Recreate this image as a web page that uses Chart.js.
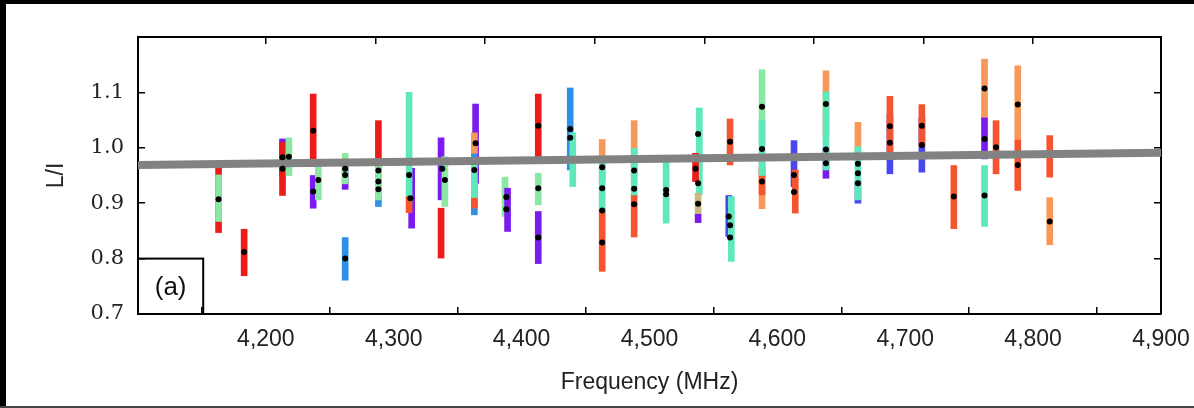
<!DOCTYPE html>
<html>
<head>
<meta charset="utf-8">
<script src="https://cdn.jsdelivr.net/npm/chart.js@4.4.1/dist/chart.umd.min.js"></script>
<style>
  html, body { margin: 0; padding: 0; background: #fff; }
  canvas { display: block; }
</style>
</head>
<body>
<canvas id="myChart" width="1194" height="408"></canvas>
<script>
// error bars, one entry per bar, drawn in this order
const barFreq = [4163, 4163, 4183, 4213, 4213, 4218, 4237, 4237, 4241, 4262, 4262, 4262,
  4288, 4288, 4288, 4314, 4312, 4312, 4337, 4337, 4340, 4364, 4363, 4363, 4363, 4363,
  4387, 4389, 4413, 4413, 4413, 4438, 4440, 4463, 4463, 4463, 4488, 4488, 4488, 4513,
  4539, 4536, 4538, 4538, 4563, 4562, 4564, 4588, 4588, 4588, 4588, 4613, 4614,
  4638, 4638, 4638, 4663, 4663, 4663, 4688, 4688, 4713, 4713, 4738, 4762, 4762, 4762,
  4771, 4788, 4788, 4813, 4813];
const barLow = [0.847, 0.867, 0.769, 0.948, 0.914, 0.950, 0.966, 0.891, 0.906, 0.925, 0.935, 0.761,
  0.960, 0.894, 0.906, 0.855, 0.900, 0.883, 0.801, 0.906, 0.894, 0.936, 0.879, 0.990, 0.909, 0.891,
  0.876, 0.849, 0.984, 0.897, 0.791, 0.960, 0.930, 0.940, 0.888, 0.777, 0.950, 0.839, 0.915, 0.864,
  0.915, 0.939, 0.879, 0.865, 0.969, 0.840, 0.795, 1.005, 0.890, 0.915, 0.950, 0.930, 0.882,
  1.020, 0.945, 0.960, 0.900, 0.990, 0.906, 0.953, 0.985, 0.956, 1.002, 0.854, 1.050, 0.980, 0.858,
  0.953, 1.014, 0.923, 0.947, 0.825];
const barHigh = [0.966, 0.951, 0.853, 1.016, 1.010, 1.018, 1.097, 0.950, 0.970, 0.975, 0.990, 0.838,
  1.049, 0.956, 0.970, 0.963, 1.100, 0.912, 0.891, 1.018, 0.984, 1.079, 1.012, 1.027, 0.975, 0.909,
  0.947, 0.927, 1.097, 0.954, 0.885, 1.108, 1.027, 1.015, 0.985, 0.888, 1.049, 0.915, 0.999, 0.975,
  1.072, 0.990, 0.918, 0.880, 1.052, 0.914, 0.912, 1.141, 0.990, 0.965, 1.050, 1.013, 0.960,
  1.139, 1.000, 1.101, 0.940, 1.046, 1.002, 1.060, 1.093, 1.054, 1.078, 0.968, 1.160, 1.054, 0.968,
  1.049, 1.148, 1.014, 1.022, 0.910];
// observing epoch of each bar (picks its colour)
const barEpoch = [0, 4, 0, 6, 0, 4, 0, 6, 4, 6, 4, 5,
  0, 5, 4, 6, 3, 1, 0, 6, 4, 6, 5, 2, 3, 1,
  4, 6, 0, 4, 6, 5, 3, 2, 3, 1, 2, 1, 3, 3,
  3, 0, 8, 6, 1, 7, 3, 4, 2, 1, 3, 7, 1,
  2, 6, 3, 7, 2, 3, 7, 1, 7, 1, 1, 2, 6, 3,
  1, 2, 1, 1, 2];

// measured L/I values (black dots)
const dotFreq = [4163, 4183, 4213, 4213, 4218, 4237, 4237, 4241, 4262, 4262, 4262,
  4288, 4288, 4288, 4312, 4313, 4338, 4340, 4364, 4363, 4388, 4388, 4413, 4413, 4413,
  4438, 4438, 4463, 4463, 4463, 4463, 4488, 4488, 4488, 4513, 4513, 4538, 4536, 4538, 4538,
  4563, 4562, 4563, 4563, 4588, 4588, 4588, 4613, 4613, 4638, 4638, 4638, 4663, 4663, 4663,
  4688, 4688, 4713, 4713, 4738, 4762, 4762, 4762, 4771, 4788, 4788, 4813];
const dotRatio = [0.907, 0.812, 0.983, 0.962, 0.984, 1.031, 0.921, 0.942, 0.962, 0.951, 0.800,
  0.959, 0.939, 0.925, 0.951, 0.909, 0.962, 0.942, 1.008, 0.960, 0.911, 0.889, 1.040, 0.927, 0.838,
  1.034, 1.018, 0.965, 0.927, 0.887, 0.829, 0.959, 0.926, 0.898, 0.924, 0.916, 1.025, 0.962, 0.936, 0.899,
  1.011, 0.876, 0.860, 0.838, 1.074, 0.998, 0.939, 0.951, 0.920, 1.079, 0.997, 0.972, 0.971, 0.954, 0.936,
  1.039, 1.009, 1.040, 1.005, 0.912, 1.107, 1.016, 0.914, 1.001, 1.078, 0.969, 0.867];

// fitted trend
const fitFreq = [4100, 4900];
const fitRatio = [0.969, 0.991];

const xTickValues = [4200, 4300, 4400, 4500, 4600, 4700, 4800, 4900];
const xTickLabels = ['4,200', '4,300', '4,400', '4,500', '4,600', '4,700', '4,800', '4,900'];
const yTickValues = [0.7, 0.8, 0.9, 1.0, 1.1];
const yTickLabels = ['0.7', '0.8', '0.9', '1.0', '1.1'];

const epochColors = ['#ee1b1b', '#f4552f', '#f89858', '#5ee8bb', '#8be8a2',
  '#2e90e6', '#7a1bf0', '#4848ee', '#c9b97a'];

const sans = "'Liberation Sans', Arial, sans-serif";

// black frame around the picture
const framePlugin = {
  id: 'frame',
  beforeDraw(chart) {
    const c = chart.ctx, w = chart.width, h = chart.height;
    c.save();
    c.fillStyle = '#fff';
    c.fillRect(0, 0, w, h);
    c.fillStyle = '#000';
    c.fillRect(0, 0, w, 4);
    c.fillRect(0, 0, 6, h);
    c.fillStyle = '#444';
    c.fillRect(0, h - 2, w, 2);
    c.restore();
  }
};

// "(a)" panel label box in the lower-left corner
const panelPlugin = {
  id: 'panel',
  afterDraw(chart) {
    const c = chart.ctx, xs = chart.scales.x, ys = chart.scales.y;
    const l = xs.getPixelForValue(4100), r = xs.getPixelForValue(4151);
    const t = ys.getPixelForValue(0.8), b = ys.getPixelForValue(0.7);
    c.save();
    c.strokeStyle = '#000';
    c.lineWidth = 2;
    c.strokeRect(l, t, r - l, b - t);
    c.fillStyle = '#111';
    c.font = '26px ' + sans;
    c.textAlign = 'center';
    c.textBaseline = 'middle';
    c.fillText('(a)', (l + r) / 2, (t + b) / 2 + 2);
    c.restore();
  }
};

function setTicks(values) {
  return function (axis) { axis.ticks = values.map(v => ({ value: v })); };
}

function fixWidth(w) {
  return function (s) { s.width = w; s.paddingTop = 0; s.paddingBottom = 0; };
}

function fixHeight(h) {
  return function (s) { s.height = h; s.paddingLeft = 0; s.paddingRight = 0; };
}

var ctx = document.getElementById('myChart').getContext('2d');
var chart = new Chart(ctx, {
  type: 'bar',
  data: {
    datasets: [
      {
        type: 'line',
        order: 0,
        data: dotFreq.map((f, i) => ({ x: f, y: dotRatio[i] })),
        showLine: false,
        pointRadius: 3,
        pointBackgroundColor: '#000',
        pointBorderWidth: 0
      },
      {
        type: 'line',
        order: 1,
        data: fitFreq.map((f, i) => ({ x: f, y: fitRatio[i] })),
        borderColor: '#828282',
        borderWidth: 8,
        pointRadius: 0
      },
      {
        type: 'bar',
        order: 2,
        data: barFreq.map((f, i) => ({ x: f, y: [barLow[i], barHigh[i]] })),
        backgroundColor: barEpoch.map(e => epochColors[e]),
        barThickness: 6,
        borderWidth: 0
      }
    ]
  },
  options: {
    responsive: false,
    devicePixelRatio: 1,
    animation: false,
    layout: { padding: { left: 0, right: 33, top: 37, bottom: 0 } },
    plugins: { legend: { display: false }, tooltip: { enabled: false } },
    scales: {
      x: {
        type: 'linear',
        position: 'bottom',
        min: 4100,
        max: 4900,
        offset: false,
        afterBuildTicks: setTicks(xTickValues),
        afterFit: fixHeight(94),
        grid: { drawOnChartArea: false, tickLength: -7, color: '#000', lineWidth: 1.5 },
        border: { display: true, color: '#000', width: 2 },
        ticks: {
          autoSkip: false, maxRotation: 0, padding: 19, color: '#222',
          font: { family: sans, size: 23 },
          callback: v => { const i = xTickValues.indexOf(v); return i >= 0 ? xTickLabels[i] : ''; }
        },
        title: { display: true, text: 'Frequency (MHz)', color: '#222',
          font: { family: sans, size: 23 }, padding: { top: 0, bottom: 12 } }
      },
      x2: {
        type: 'linear',
        position: 'top',
        min: 4100,
        max: 4900,
        afterBuildTicks: setTicks(xTickValues.slice(0, 7)),
        afterFit: fixHeight(0),
        grid: { drawOnChartArea: false, tickLength: -7, color: '#000', lineWidth: 1.5 },
        border: { display: true, color: '#000', width: 2 },
        ticks: { display: false }
      },
      y: {
        type: 'linear',
        position: 'left',
        min: 0.7,
        max: 1.2,
        afterBuildTicks: setTicks(yTickValues),
        afterFit: fixWidth(138),
        grid: { drawOnChartArea: false, tickLength: -7, color: '#000', lineWidth: 1.5 },
        border: { display: true, color: '#000', width: 2 },
        ticks: {
          padding: 21, color: '#222',
          font: { family: "'DejaVu Serif', serif", size: 21 },
          callback: v => { const i = yTickValues.indexOf(v); return i >= 0 ? yTickLabels[i] : ''; }
        },
        title: { display: true, text: 'L/I', color: '#222',
          font: { family: sans, size: 23 }, padding: { top: 43, bottom: 0 } }
      },
      y2: {
        type: 'linear',
        position: 'right',
        min: 0.7,
        max: 1.2,
        afterBuildTicks: setTicks(yTickValues.slice(1)),
        afterFit: fixWidth(0),
        grid: { drawOnChartArea: false, tickLength: -7, color: '#000', lineWidth: 1.5 },
        border: { display: true, color: '#000', width: 2 },
        ticks: { display: false }
      }
    }
  },
  plugins: [framePlugin, panelPlugin]
});
</script>
</body>
</html>
